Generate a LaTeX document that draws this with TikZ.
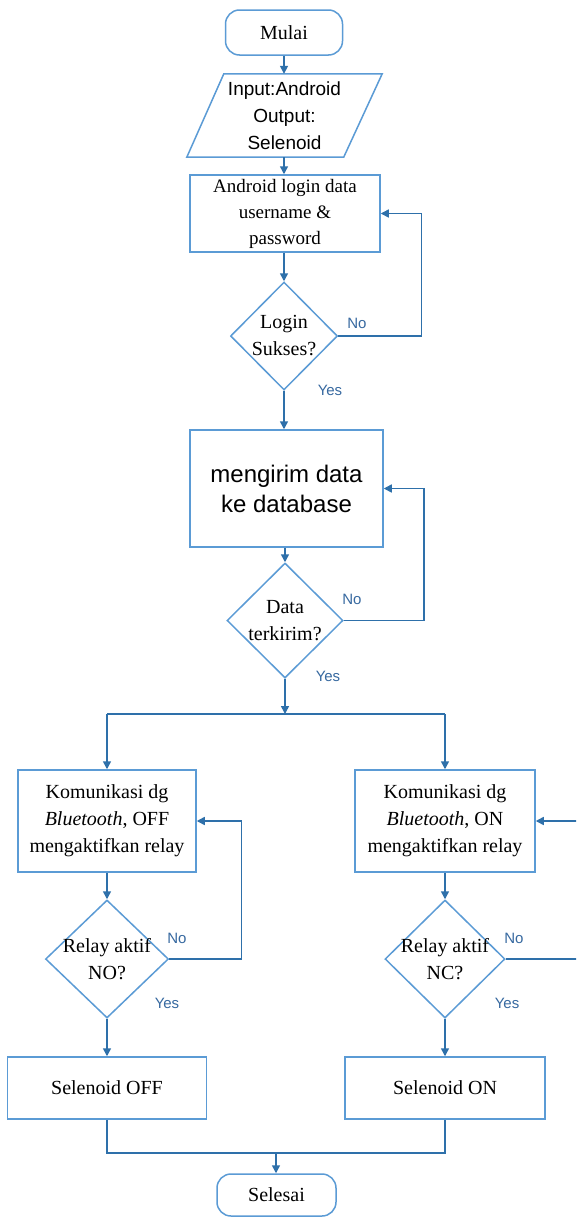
\documentclass[tikz,border=0pt]{standalone}
\usepackage{fontspec}
\setmainfont{Liberation Serif}
\newfontfamily\arialf{Liberation Sans}
\usetikzlibrary{shapes.geometric,arrows.meta,calc}
\definecolor{shapeblue}{RGB}{91,155,213}
\definecolor{lineblue}{RGB}{46,112,170}
\definecolor{lblblue}{RGB}{55,105,160}
\tikzset{
  serif/.style={font=\fontsize{20}{27}\selectfont},
  sans/.style={font=\arialf\fontsize{19}{27}\selectfont},
  procbox/.style={draw=shapeblue, line width=1.5pt, rectangle, inner sep=0pt, align=center, serif},
  termbox/.style={draw=shapeblue, line width=1.5pt, rectangle, rounded corners=14pt, inner sep=0pt, align=center, serif},
  decision/.style={draw=shapeblue, line width=1.5pt, diamond, inner sep=0pt, align=center, serif},
  conn/.style={draw=lineblue, line width=1.5pt},
  arr/.style={conn, -{Triangle[length=8pt,width=8pt]}},
  yn/.style={font=\arialf\fontsize{15}{18}\selectfont, text=lblblue, inner sep=0pt},
}
\begin{document}
\begin{tikzpicture}[x=1pt,y=-1pt]
\useasboundingbox (0,0) rectangle (576,1218);
\fill[white] (0,0) rectangle (576,1218);
\clip (0,0) rectangle (576,1218);

% nodes
\node[termbox, minimum width=117pt, minimum height=45pt] (start) at (284,32.5) {Mulai};
\node[sans, inner sep=0pt, minimum width=158pt, minimum height=83pt, align=center] (io) at (284.5,115.5) {Input:Android\\Output:\\Selenoid};
\draw[draw=shapeblue, line width=1.5pt] ($(io.north west)+(18.5,0)$) -- ($(io.north east)+(18.5,0)$) -- ($(io.south east)+(-20,0)$) -- ($(io.south west)+(-18.5,0)$) -- cycle;
\node[procbox, font=\fontsize{19}{26}\selectfont, minimum width=190pt, minimum height=77pt] (login) at (285,213.5) {Android login data\\username \&\\password};
\node[decision, minimum width=107pt, minimum height=108pt] (d1) at (284,336) {\makebox[0pt]{Login}\\\makebox[0pt]{Sukses?}};
\node[procbox, font=\arialf\fontsize{24}{30}\selectfont, minimum width=193pt, minimum height=117pt] (send) at (286.5,488.5) {mengirim data\\ke database};
\node[decision, minimum width=116pt, minimum height=115pt] (d2) at (285,620.5) {\makebox[0pt]{Data}\\\makebox[0pt]{terkirim?}};
\coordinate (split) at (285,714);
\node[procbox, minimum width=178pt, minimum height=102pt] (offbox) at (107,821) {Komunikasi dg\\\textit{Bluetooth}, OFF\\mengaktifkan relay};
\node[procbox, minimum width=180pt, minimum height=102pt] (onbox) at (445,821) {Komunikasi dg\\\textit{Bluetooth}, ON\\mengaktifkan relay};
\node[decision, minimum width=123pt, minimum height=118pt] (d3) at (107,959) {\makebox[0pt]{Relay aktif}\\\makebox[0pt]{NO?}};
\node[decision, minimum width=120pt, minimum height=118pt] (d4) at (445,959) {\makebox[0pt]{Relay aktif}\\\makebox[0pt]{NC?}};
\node[procbox, minimum width=199pt, minimum height=62pt] (soff) at (107,1088) {Selenoid OFF};
\node[procbox, minimum width=200pt, minimum height=62pt] (son) at (445,1088) {Selenoid ON};
\coordinate (join) at (276,1153);
\node[termbox, minimum width=119pt, minimum height=42pt] (end) at (276.5,1195) {Selesai};

% connectors
\draw[arr] (start.south) -- (io.north -| start.south);
\draw[arr] (io.south -| start.south) -- (login.north -| start.south);
\draw[arr] (login.south -| d1.north) -- (d1.north);
\draw[arr] (d1.east) -- ++(83,0) |- (login.east);
\draw[arr] (d1.south) -- (d1.south |- send.north);
\draw[arr] (send.south -| d2.north) -- (d2.north);
\draw[arr] (d2.east) -- ++(80,0) |- (send.east);
\draw[arr] (d2.south) -- (split);
\draw[conn] (offbox.north |- split) -- (onbox.north |- split);
\draw[arr] (offbox.north |- split) -- (offbox.north);
\draw[arr] (onbox.north |- split) -- (onbox.north);
\draw[arr] (offbox.south) -- (d3.north);
\draw[arr] (onbox.south) -- (d4.north);
\draw[arr] (d3.east) -- ++(72,0) |- (offbox.east);
\draw[arr] (d4.east) -- ++(75,0) |- (onbox.east);
\draw[arr] (d3.south) -- (soff.north);
\draw[arr] (d4.south) -- (son.north);
\draw[conn] (soff.south) |- (join) -| (son.south);
\draw[arr] (join) -- (end.north -| join);

% labels
\node[yn] (n1) at (357,323) {No};
\node[yn] (y1) at (330,390) {Yes};
\node[yn] (n2) at (352,599) {No};
\node[yn] (y2) at (328,676) {Yes};
\node[yn] (n3) at (177,938) {No};
\node[yn] (y3) at (167,1003) {Yes};
\node[yn] (n4) at (514,938) {No};
\node[yn] (y4) at (507,1003) {Yes};
\end{tikzpicture}
\end{document}
